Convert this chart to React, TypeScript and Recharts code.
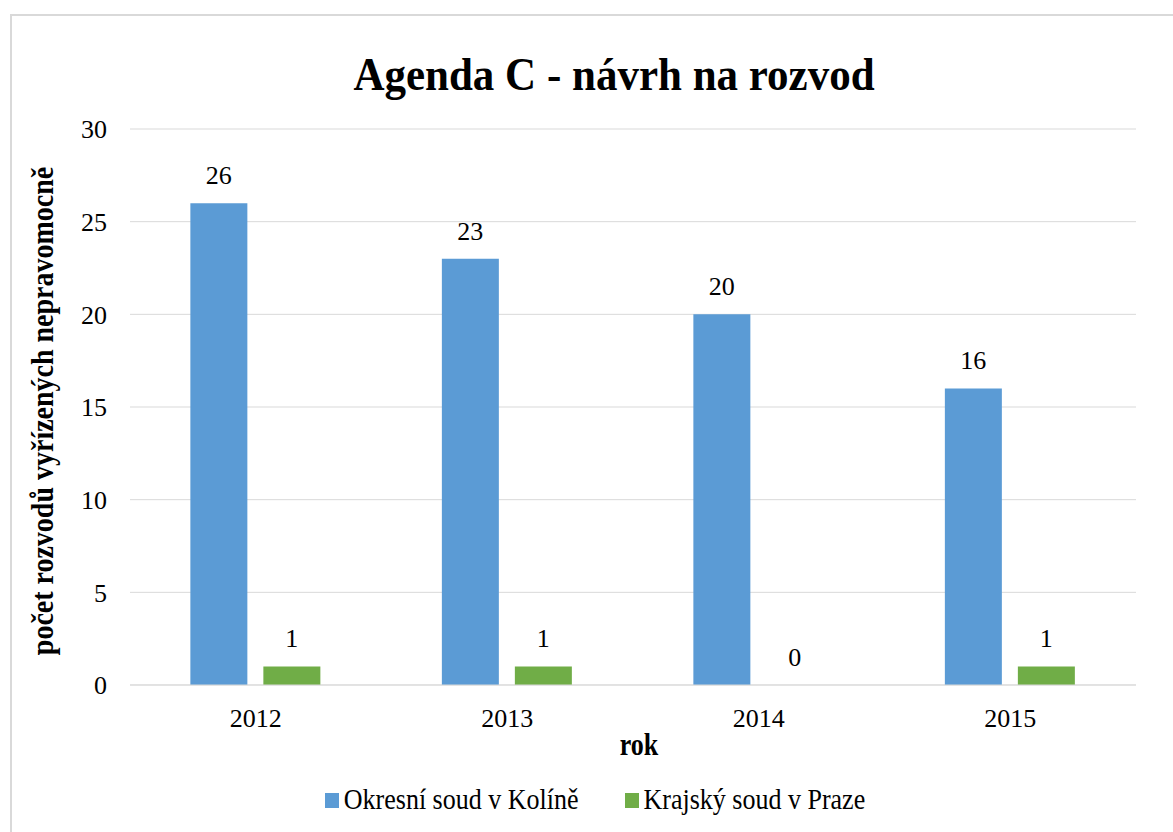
import { BarChart, Bar, XAxis, YAxis, CartesianGrid, Legend, LabelList } from 'recharts';

const years = ['2012', '2013', '2014', '2015'];
const kolin = [26, 23, 20, 16];
const praha = [1, 1, 0, 1];
const yTicks = [0, 5, 10, 15, 20, 25, 30];

const data = years.map((rok, i) => ({ rok, kolin: kolin[i], praha: praha[i] }));

const FONT = '"Liberation Serif", "Times New Roman", serif';
const BLUE = '#5B9BD5';
const GREEN = '#70AD47';

function YLabel({ viewBox }: any) {
  const cx = viewBox.x + 22;
  const cy = viewBox.y + viewBox.height / 2 + 4;
  return (
    <text x={0} y={0} transform={`translate(${cx} ${cy}) rotate(-90) scale(1 1.15)`} textAnchor="middle" dominantBaseline="central"
      style={{ fontFamily: FONT, fontSize: 28, fontWeight: 700, fill: '#000' }}>
      počet rozvodů vyřízených nepravomocně
    </text>
  );
}

function XLabel({ viewBox }: any) {
  const cx = viewBox.x + viewBox.width / 2 + 6;
  const cy = viewBox.y + 60;
  return (
    <text x={0} y={0} transform={`translate(${cx} ${cy}) scale(1 1.18)`} textAnchor="middle" dominantBaseline="central"
      style={{ fontFamily: FONT, fontSize: 26, fontWeight: 700, fill: '#000' }}>
      rok
    </text>
  );
}

function BarValue(props: any) {
  const { x, y, width, value } = props;
  return (
    <text x={x + width / 2} y={y - 19} textAnchor="middle"
      style={{ fontFamily: FONT, fontSize: 26, fill: '#000' }}>
      {value}
    </text>
  );
}

function LegendBox() {
  const items = [
    { name: 'Okresní soud v Kolíně', color: BLUE },
    { name: 'Krajský soud v Praze', color: GREEN },
  ];
  return (
    <div style={{ display: 'flex', justifyContent: 'center', gap: 46, fontFamily: FONT, fontSize: 26, lineHeight: '30px', color: '#000', paddingLeft: 34 }}>
      {items.map(it => (
        <div key={it.name} style={{ display: 'flex', alignItems: 'center', gap: 5 }}>
          <div style={{ width: 14, height: 15, background: it.color }} />
          <span style={{ display: 'inline-block', transform: 'scaleY(1.15)' }}>{it.name}</span>
        </div>
      ))}
    </div>
  );
}

export default function App() {
  return (
    <div style={{ position: 'absolute', left: 0, top: 0, width: 1173, height: 832, overflow: 'hidden', background: '#fff' }}>
      <div style={{ position: 'absolute', left: 10, top: 14, width: 1200, height: 900, border: '2px solid #d9d9d9', boxSizing: 'border-box' }} />
      <div style={{ position: 'absolute', left: 0, top: 50, width: 1228, textAlign: 'center', fontFamily: FONT, fontSize: 43, fontWeight: 700, lineHeight: '50px', color: '#000', transform: 'scaleY(1.06)' }}>
        Agenda C - návrh na rozvod
      </div>
      <div style={{ position: 'absolute', left: 0, top: 0 }}>
        <BarChart width={1173} height={832} data={data}
          margin={{ top: 129, right: 37, bottom: 17, left: 20 }}
          barCategoryGap="24%" barGap={16}>
          <CartesianGrid vertical={false} stroke="#d9d9d9" strokeWidth={1} />
          <XAxis dataKey="rok" height={100} tickLine={false} tickSize={0} tickMargin={24}
            axisLine={{ stroke: '#d9d9d9' }}
            tick={{ fontFamily: FONT, fontSize: 26, fill: '#000' }}
            label={<XLabel />} />
          <YAxis domain={[0, 30]} ticks={yTicks} width={110} axisLine={false} tickLine={false} tickSize={0} tickMargin={23}
            tick={{ fontFamily: FONT, fontSize: 26, fill: '#000' }}
            label={<YLabel />} />
          <Legend verticalAlign="bottom" content={<LegendBox />} />
          <Bar dataKey="kolin" name="Okresní soud v Kolíně" fill={BLUE} isAnimationActive={false}>
            <LabelList dataKey="kolin" content={<BarValue />} />
          </Bar>
          <Bar dataKey="praha" name="Krajský soud v Praze" fill={GREEN} isAnimationActive={false}
            minPointSize={(v: number) => (v === 0 ? 0.01 : 0)}>
            <LabelList dataKey="praha" content={<BarValue />} />
          </Bar>
        </BarChart>
      </div>
    </div>
  );
}
